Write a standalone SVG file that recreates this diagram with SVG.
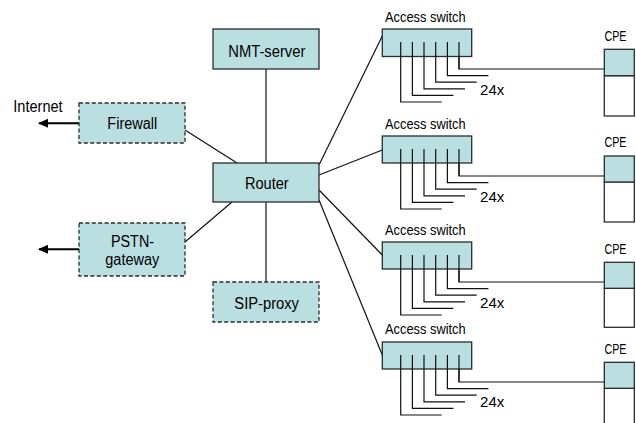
<svg xmlns="http://www.w3.org/2000/svg" width="636" height="423" viewBox="0 0 636 423">
<style>
.box{fill:#b9dfe1;stroke:#2b2b2b;stroke-width:1.3}
.dash{stroke-dasharray:4 2.4}
.wbox{fill:#ffffff;stroke:#2b2b2b;stroke-width:1.3}
.ln{fill:none;stroke:#111;stroke-width:1.2}
.arr{fill:none;stroke:#000;stroke-width:2}
.t{font-family:"Liberation Sans",Arial,sans-serif;font-size:16px;fill:#000}
.s{font-family:"Liberation Sans",Arial,sans-serif;font-size:15.5px;fill:#000}
</style>
<defs>
<marker id="ah" viewBox="0 0 10 10" refX="9" refY="5" markerWidth="5.5" markerHeight="5" orient="auto" markerUnits="strokeWidth">
<path d="M0,0.5 L10,5 L0,9.5 Z" fill="#000"/>
</marker>
</defs>

<g id="connectors">
<line class="ln" x1="266" y1="69" x2="266" y2="163"/>
<line class="ln" x1="266" y1="202" x2="266" y2="282"/>
<line class="ln" x1="185" y1="130" x2="237" y2="163"/>
<line class="ln" x1="185" y1="242" x2="232" y2="202"/>
<line class="ln" x1="319" y1="165" x2="382.3" y2="36"/>
<line class="ln" x1="319" y1="175" x2="382.3" y2="150"/>
<line class="ln" x1="319" y1="190" x2="382.3" y2="255"/>
<line class="ln" x1="319" y1="200" x2="382.3" y2="355"/>
<line class="arr" x1="79" y1="123.3" x2="39" y2="123.3" marker-end="url(#ah)"/>
<line class="arr" x1="79" y1="249.3" x2="39" y2="249.3" marker-end="url(#ah)"/>
<polyline class="ln" points="459,42 459,69 604.3,69"/>
<polyline class="ln" points="459,149 459,176 604.3,176"/>
<polyline class="ln" points="459,255 459,282 604.3,282"/>
<polyline class="ln" points="459,355 459,382 604.3,382"/>
</g>

<g id="nmt-server">
<rect class="box" x="213" y="29" width="106" height="40"/>
<text class="t" x="228.3" y="57.3" textLength="77" lengthAdjust="spacingAndGlyphs">NMT-server</text>
</g>
<g id="firewall">
<rect class="box dash" x="79" y="103" width="106" height="40"/>
<text class="t" x="107.3" y="129.3" textLength="50" lengthAdjust="spacingAndGlyphs">Firewall</text>
</g>
<g id="internet">
<text class="t" x="13.3" y="112.3" textLength="49.3" lengthAdjust="spacingAndGlyphs">Internet</text>
</g>
<g id="router">
<rect class="box" x="213" y="163" width="106" height="39"/>
<text class="t" x="245" y="189.3" textLength="43.7" lengthAdjust="spacingAndGlyphs">Router</text>
</g>
<g id="pstn-gateway">
<rect class="box dash" x="79" y="223" width="106" height="53"/>
<text class="t" x="111" y="246.7" textLength="43" lengthAdjust="spacingAndGlyphs">PSTN-</text>
<text class="t" x="105.3" y="265" textLength="54" lengthAdjust="spacingAndGlyphs">gateway</text>
</g>
<g id="sip-proxy">
<rect class="box dash" x="213" y="282" width="106" height="40"/>
<text class="t" x="234.3" y="309" textLength="64.7" lengthAdjust="spacingAndGlyphs">SIP-proxy</text>
</g>

<g id="switch-1" transform="translate(0,29)">
<text class="s" x="385" y="-7.5" textLength="80.7" lengthAdjust="spacingAndGlyphs">Access switch</text>
<rect class="box" x="382.3" y="0" width="89.4" height="27.5"/>
<polyline class="ln" points="400.7,13 400.7,73 441.7,73"/>
<polyline class="ln" points="412.4,13 412.4,66.4 453.4,66.4"/>
<polyline class="ln" points="424,13 424,59.8 465,59.8"/>
<polyline class="ln" points="435.7,13 435.7,53.2 476.7,53.2"/>
<polyline class="ln" points="447.4,13 447.4,46.6 488.4,46.6"/>
<line class="ln" x1="459" y1="13" x2="459" y2="40"/>
<text class="s" x="480" y="65.5" textLength="24.3" lengthAdjust="spacingAndGlyphs">24x</text>
</g>
<g id="switch-2" transform="translate(0,136)">
<text class="s" x="385" y="-7.5" textLength="80.7" lengthAdjust="spacingAndGlyphs">Access switch</text>
<rect class="box" x="382.3" y="0" width="89.4" height="27"/>
<polyline class="ln" points="400.7,13 400.7,73 441.7,73"/>
<polyline class="ln" points="412.4,13 412.4,66.4 453.4,66.4"/>
<polyline class="ln" points="424,13 424,59.8 465,59.8"/>
<polyline class="ln" points="435.7,13 435.7,53.2 476.7,53.2"/>
<polyline class="ln" points="447.4,13 447.4,46.6 488.4,46.6"/>
<line class="ln" x1="459" y1="13" x2="459" y2="40"/>
<text class="s" x="480" y="65.5" textLength="24.3" lengthAdjust="spacingAndGlyphs">24x</text>
</g>
<g id="switch-3" transform="translate(0,242)">
<text class="s" x="385" y="-7.5" textLength="80.7" lengthAdjust="spacingAndGlyphs">Access switch</text>
<rect class="box" x="382.3" y="0" width="89.4" height="27"/>
<polyline class="ln" points="400.7,13 400.7,73 441.7,73"/>
<polyline class="ln" points="412.4,13 412.4,66.4 453.4,66.4"/>
<polyline class="ln" points="424,13 424,59.8 465,59.8"/>
<polyline class="ln" points="435.7,13 435.7,53.2 476.7,53.2"/>
<polyline class="ln" points="447.4,13 447.4,46.6 488.4,46.6"/>
<line class="ln" x1="459" y1="13" x2="459" y2="40"/>
<text class="s" x="480" y="65.5" textLength="24.3" lengthAdjust="spacingAndGlyphs">24x</text>
</g>
<g id="switch-4" transform="translate(0,342)">
<text class="s" x="385" y="-8.5" textLength="80.7" lengthAdjust="spacingAndGlyphs">Access switch</text>
<rect class="box" x="382.3" y="0" width="89.4" height="27"/>
<polyline class="ln" points="400.7,13 400.7,73 441.7,73"/>
<polyline class="ln" points="412.4,13 412.4,66.4 453.4,66.4"/>
<polyline class="ln" points="424,13 424,59.8 465,59.8"/>
<polyline class="ln" points="435.7,13 435.7,53.2 476.7,53.2"/>
<polyline class="ln" points="447.4,13 447.4,46.6 488.4,46.6"/>
<line class="ln" x1="459" y1="13" x2="459" y2="40"/>
<text class="s" x="480" y="65" textLength="24.3" lengthAdjust="spacingAndGlyphs">24x</text>
</g>

<g id="cpe-1">
<text class="s" x="604.5" y="41" textLength="22" lengthAdjust="spacingAndGlyphs">CPE</text>
<rect class="wbox" x="604.3" y="75.7" width="30" height="40.3"/>
<rect class="box" x="604.3" y="49.3" width="30" height="26.4"/>
</g>
<g id="cpe-2">
<text class="s" x="604.5" y="147" textLength="22" lengthAdjust="spacingAndGlyphs">CPE</text>
<rect class="wbox" x="604.3" y="182" width="30" height="40"/>
<rect class="box" x="604.3" y="156" width="30" height="26"/>
</g>
<g id="cpe-3">
<text class="s" x="604.5" y="254" textLength="22" lengthAdjust="spacingAndGlyphs">CPE</text>
<rect class="wbox" x="604.3" y="288.3" width="30" height="39"/>
<rect class="box" x="604.3" y="262.3" width="30" height="26"/>
</g>
<g id="cpe-4">
<text class="s" x="604.5" y="354.3" textLength="22" lengthAdjust="spacingAndGlyphs">CPE</text>
<rect class="wbox" x="604.3" y="388.3" width="30" height="45"/>
<rect class="box" x="604.3" y="362.3" width="30" height="26"/>
</g>
</svg>
